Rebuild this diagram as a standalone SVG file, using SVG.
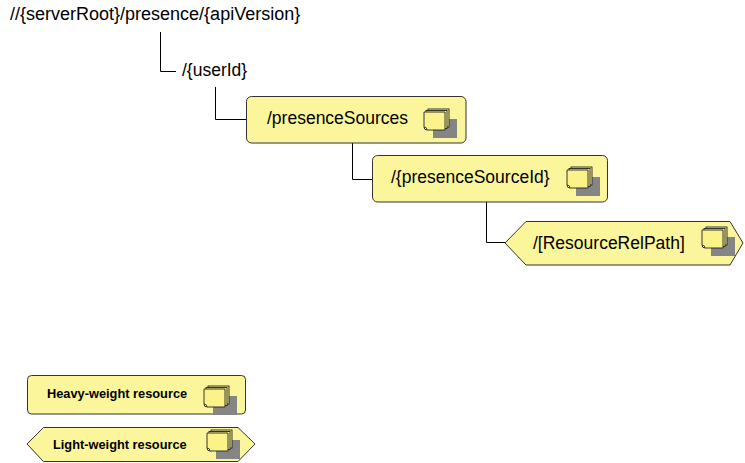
<svg xmlns="http://www.w3.org/2000/svg" xmlns:xlink="http://www.w3.org/1999/xlink" width="745" height="463" viewBox="0 0 745 463">
<style>
.t{font-family:"Liberation Sans",Arial,sans-serif;font-size:17.5px;fill:#000}
.lg{font-family:"Liberation Sans",Arial,sans-serif;font-size:12.8px;font-weight:bold;fill:#000}
.box{fill:#FBF69C;stroke:#333;stroke-width:1}
.pg{fill:#FBF38A;stroke:#222;stroke-width:0.9}
.conn{fill:none;stroke:#000;stroke-width:1}
</style>
<defs>
<g id="icon">
<rect x="9" y="7" width="24" height="19" fill="#858585"/>
<rect class="pg" x="4" y="-3" width="21" height="18"/>
<rect class="pg" x="2" y="-1.5" width="21" height="18"/>
<path class="pg" d="M0,0 H21 V18 H3 Q0,18 0,15 Z"/>
<path d="M0,15 Q3,15 3,18" fill="none" stroke="#222" stroke-width="0.8"/>
</g>
</defs>
<g id="connectors">
<path class="conn" d="M160.5,32 V71.5 H176"/>
<path class="conn" d="M215.5,87 V119.5 H247"/>
<path class="conn" d="M352.5,143 V179.5 H372"/>
<path class="conn" d="M486.5,202 V242.5 H505"/>
</g>
<g id="root">
<text class="t" x="10" y="20" style="font-size:18px">//{serverRoot}/presence/{apiVersion}</text>
</g>
<g id="userId">
<text class="t" x="182" y="76">/{userId}</text>
</g>
<g id="presenceSources">
<rect class="box" x="246.5" y="96.5" width="219.5" height="46.5" rx="5"/>
<text class="t" x="267" y="124">/presenceSources</text>
<use xlink:href="#icon" x="424" y="112"/>
</g>
<g id="presenceSourceId">
<rect class="box" x="372.5" y="155.5" width="235" height="46.5" rx="5"/>
<text class="t" x="391" y="183">/{presenceSourceId}</text>
<use xlink:href="#icon" x="567" y="170"/>
</g>
<g id="resourceRelPath">
<polygon class="box" points="505,243 526,221.5 730,221.5 743,243 730,265 526,265"/>
<text class="t" x="533" y="249">/[ResourceRelPath]</text>
<use xlink:href="#icon" x="702" y="230"/>
</g>
<g id="legend-heavy">
<rect class="box" x="27.5" y="375.5" width="218" height="38.5" rx="4"/>
<text class="lg" x="47" y="398">Heavy-weight resource</text>
<use xlink:href="#icon" x="204" y="389"/>
</g>
<g id="legend-light">
<polygon class="box" points="27,444 43.5,427.5 238,427.5 255,444 238,461.5 43.5,461.5"/>
<text class="lg" x="53" y="449">Light-weight resource</text>
<use xlink:href="#icon" x="207" y="433"/>
</g>
</svg>
